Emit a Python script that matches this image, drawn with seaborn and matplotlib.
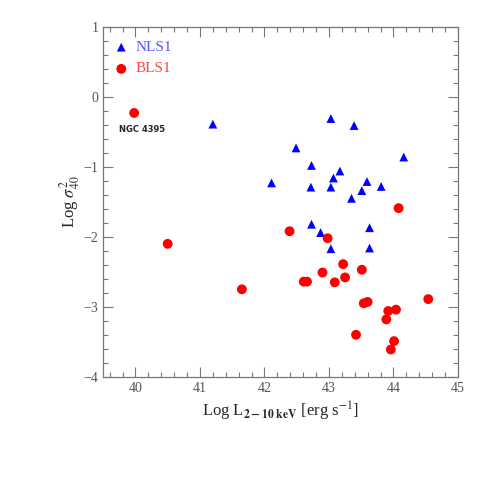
import pandas as pd
import matplotlib
matplotlib.use('Agg')
import matplotlib.pyplot as plt
from matplotlib.ticker import MultipleLocator
import seaborn as sns

sns.set_style('ticks')
plt.rcParams['font.family'] = ['Liberation Serif', 'DejaVu Serif']
plt.rcParams['mathtext.fontset'] = 'stix'

# narrow line Seyfert 1s
nls1_logL = [41.20, 43.03, 43.39, 42.49, 44.16, 42.73, 43.17, 43.07, 42.11, 42.72,
             43.03, 43.59, 43.81, 43.51, 43.35, 42.73, 43.63, 42.87, 43.03, 43.63]
nls1_sig = [-0.39, -0.31, -0.41, -0.73, -0.86, -0.98, -1.06, -1.16, -1.23, -1.29,
            -1.29, -1.21, -1.28, -1.34, -1.45, -1.82, -1.87, -1.94, -2.17, -2.16]

# broad line Seyfert 1s
bls1_logL = [39.98, 40.50, 44.08, 42.39, 42.98, 41.65, 43.22, 42.90, 43.51, 43.25, 42.61,
             42.66, 43.09, 43.54, 43.60, 44.54, 43.92, 44.04, 43.89, 43.42, 44.01, 43.96]
bls1_sig = [-0.23, -2.10, -1.59, -1.92, -2.02, -2.75, -2.39, -2.51, -2.47, -2.58, -2.64,
            -2.64, -2.65, -2.95, -2.93, -2.89, -3.06, -3.04, -3.18, -3.40, -3.49, -3.61]

df = pd.concat([
    pd.DataFrame({'logL': nls1_logL, 'sig': nls1_sig, 'type': 'NLS1'}),
    pd.DataFrame({'logL': bls1_logL, 'sig': bls1_sig, 'type': 'BLS1'}),
])

fig = plt.figure(figsize=(4.8, 4.8), dpi=100)
ax = fig.add_axes([0.215, 0.215, 0.739, 0.729])

sns.scatterplot(data=df, x='logL', y='sig', hue='type', style='type',
                palette={'NLS1': '#0000ff', 'BLS1': '#ff0000'},
                markers={'NLS1': '^', 'BLS1': 'o'},
                size='type', sizes={'NLS1': 40, 'BLS1': 50},
                edgecolor='none', ax=ax, legend=False)

# legend drawn by hand like the original
ax.scatter([39.78], [0.71], marker='^', s=40, color='#0000ff', edgecolor='none')
ax.scatter([39.78], [0.40], marker='o', s=50, color='#ff0000', edgecolor='none')
ax.text(40.0, 0.71, 'NLS1', color='#5555ff', fontsize=11, va='center')
ax.text(40.0, 0.40, 'BLS1', color='#ff4444', fontsize=11, va='center')

ax.text(39.74, -0.46, 'NGC 4395', fontsize=6, fontweight='bold',
        family='DejaVu Sans', va='center')

ax.set_xlim(39.5, 45)
ax.set_ylim(-4, 1)
ax.xaxis.set_major_locator(MultipleLocator(1))
ax.xaxis.set_minor_locator(MultipleLocator(0.2))
ax.yaxis.set_major_locator(MultipleLocator(1))
ax.yaxis.set_minor_locator(MultipleLocator(0.2))
ax.tick_params(which='both', direction='in', top=True, right=True,
               color='#777777', labelcolor='#555555', labelsize=10)
ax.tick_params(which='major', length=7, width=0.8)
ax.tick_params(which='minor', length=3.5, width=0.8)
for s in ax.spines.values():
    s.set_color('#777777')
    s.set_linewidth(0.9)

ax.set_xlabel(r'Log L$_{\mathbf{2-10\ keV}}$ [erg s$^{-1}$]', fontsize=12, labelpad=4)
ax.set_ylabel(r'Log $\sigma^2_{40}$', fontsize=12, labelpad=1)

fig.savefig('out.png', dpi=100)
